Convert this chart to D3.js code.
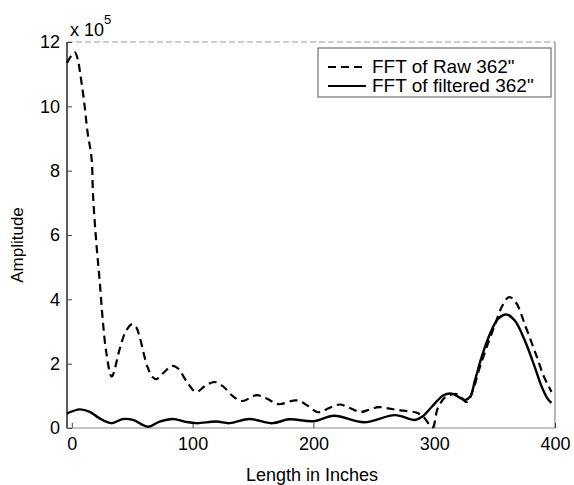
<!DOCTYPE html>
<html>
<head>
<meta charset="utf-8">
<script src="https://cdn.jsdelivr.net/npm/d3@7"></script>
<style>
  body{margin:0;background:#fff;}
  svg text{font-family:"Liberation Sans",Arial,sans-serif;fill:#000;}
</style>
</head>
<body>
<svg id="viz" width="574" height="485"></svg>
<script>
// values, amplitude in units of 1e5
const rawX = [-4,0,2.5,5,7,10,13,16.3,17.6,20.5,23,25.5,28.5,33,39.6,44,49.5,53,56,62.7,67,70,76,83,88,95,103,110,118,125,133,141,153,162,171,186,195,204,213,222,230,239,247,254,263,272,285,291,298.6,302.8,309.6,319,327,333,337,342.5,349.6,356.5,362,367.5,375.8,384,390.9,395,397];
const rawY = [11.35,11.6,11.68,11.45,11.0,10.2,9.2,8.4,7.2,5.65,4.6,3.4,2.36,1.6,2.45,2.95,3.22,3.15,2.85,1.89,1.58,1.52,1.72,1.93,1.85,1.45,1.12,1.3,1.43,1.3,1.0,0.84,1.02,0.9,0.74,0.86,0.7,0.49,0.62,0.73,0.62,0.5,0.58,0.65,0.6,0.55,0.48,0.35,0.02,0.6,0.97,1.05,0.81,1.28,1.8,2.41,3.14,3.81,4.07,3.91,3.14,2.31,1.59,1.28,1.12];
const filtX = [-4,6.6,14.9,23,32.7,42.4,50.6,63,72.7,83.7,93.4,103,119.6,130.6,147,166,180,200,217,242,267.6,284,290,298,307.7,314.5,320,325.5,329.7,333.8,339.3,346.2,353,359.8,366.7,375,383.2,389,393.7,397];
const filtY = [0.45,0.58,0.5,0.3,0.15,0.28,0.25,0.04,0.2,0.28,0.2,0.15,0.2,0.15,0.28,0.15,0.27,0.21,0.38,0.18,0.4,0.25,0.35,0.66,1.02,1.07,0.97,0.87,0.97,1.49,2.21,2.93,3.4,3.53,3.34,2.72,1.9,1.28,0.92,0.78];
const xTicks = [0,100,200,300,400];
const yTicks = [0,2,4,6,8,10,12];
const legendNames = ["FFT of Raw 362\"","FFT of filtered 362\""];

const svg = d3.select("#viz");
const L=67, R=555, T=42, B=428;
const x = d3.scaleLinear().domain([-4,400]).range([L,R]);
const y = d3.scaleLinear().domain([0,12]).range([B,T]);

// box
svg.append("line").attr("x1",L).attr("x2",L).attr("y1",T).attr("y2",B).attr("stroke","#000").attr("stroke-width",1.3);
svg.append("line").attr("x1",L).attr("x2",R).attr("y1",B).attr("y2",B).attr("stroke","#888").attr("stroke-width",1.2);
svg.append("line").attr("x1",L).attr("x2",R).attr("y1",T).attr("y2",T).attr("stroke","#999").attr("stroke-width",1).attr("stroke-dasharray","6,3");
svg.append("line").attr("x1",R).attr("x2",R).attr("y1",T).attr("y2",B).attr("stroke","#888").attr("stroke-width",1.2);

// axes via d3
const xAxis = svg.append("g").attr("transform",`translate(0,${B})`)
  .call(d3.axisBottom(x).tickValues(xTicks).tickSizeInner(-5).tickSizeOuter(0).tickPadding(9));
const yAxis = svg.append("g").attr("transform",`translate(${L},0)`)
  .call(d3.axisLeft(y).tickValues(yTicks).tickSizeInner(-5).tickSizeOuter(0).tickPadding(7));
[xAxis,yAxis].forEach(a=>{
  a.select(".domain").remove();
  a.selectAll(".tick line").attr("stroke","#444");
  a.selectAll("text").attr("font-size",18).attr("font-family","Liberation Sans, Arial, sans-serif").attr("fill","#000");
});

// exponent label
const ex = svg.append("text").attr("x",70).attr("y",36).attr("font-size",18);
ex.append("tspan").text("x 10");
ex.append("tspan").attr("dy",-12).attr("font-size",13).text("5");

// axis titles
svg.append("text").attr("x",312).attr("y",481).attr("text-anchor","middle").attr("font-size",18).text("Length in Inches");
svg.append("text").attr("transform",`translate(23,${(T+B)/2+10}) rotate(-90)`).attr("text-anchor","middle").attr("font-size",17).text("Amplitude");

// series
const line = d3.line().x(d=>x(d[0])).y(d=>y(d[1])).curve(d3.curveCatmullRom.alpha(0.5));
const raw = d3.zip(rawX, rawY), filt = d3.zip(filtX, filtY);
svg.append("path").datum(filt).attr("d",line).attr("fill","none").attr("stroke","#000").attr("stroke-width",2.4);
svg.append("path").datum(raw).attr("d",line).attr("fill","none").attr("stroke","#000").attr("stroke-width",2.2).attr("stroke-dasharray","8,5");

// legend
const lg = svg.append("g");
lg.append("rect").attr("x",318).attr("y",48).attr("width",233).attr("height",49).attr("fill","#fff").attr("stroke","#555").attr("stroke-width",1);
legendNames.forEach((n,i)=>{
  const yy = 67 + i*19;
  lg.append("line").attr("x1",328).attr("x2",366).attr("y1",yy).attr("y2",yy).attr("stroke","#000").attr("stroke-width",2.2)
    .attr("stroke-dasharray", i===0 ? "8,5" : null);
  lg.append("text").attr("x",372).attr("y",yy+6).attr("font-size",19).text(n);
});
</script>
</body>
</html>
